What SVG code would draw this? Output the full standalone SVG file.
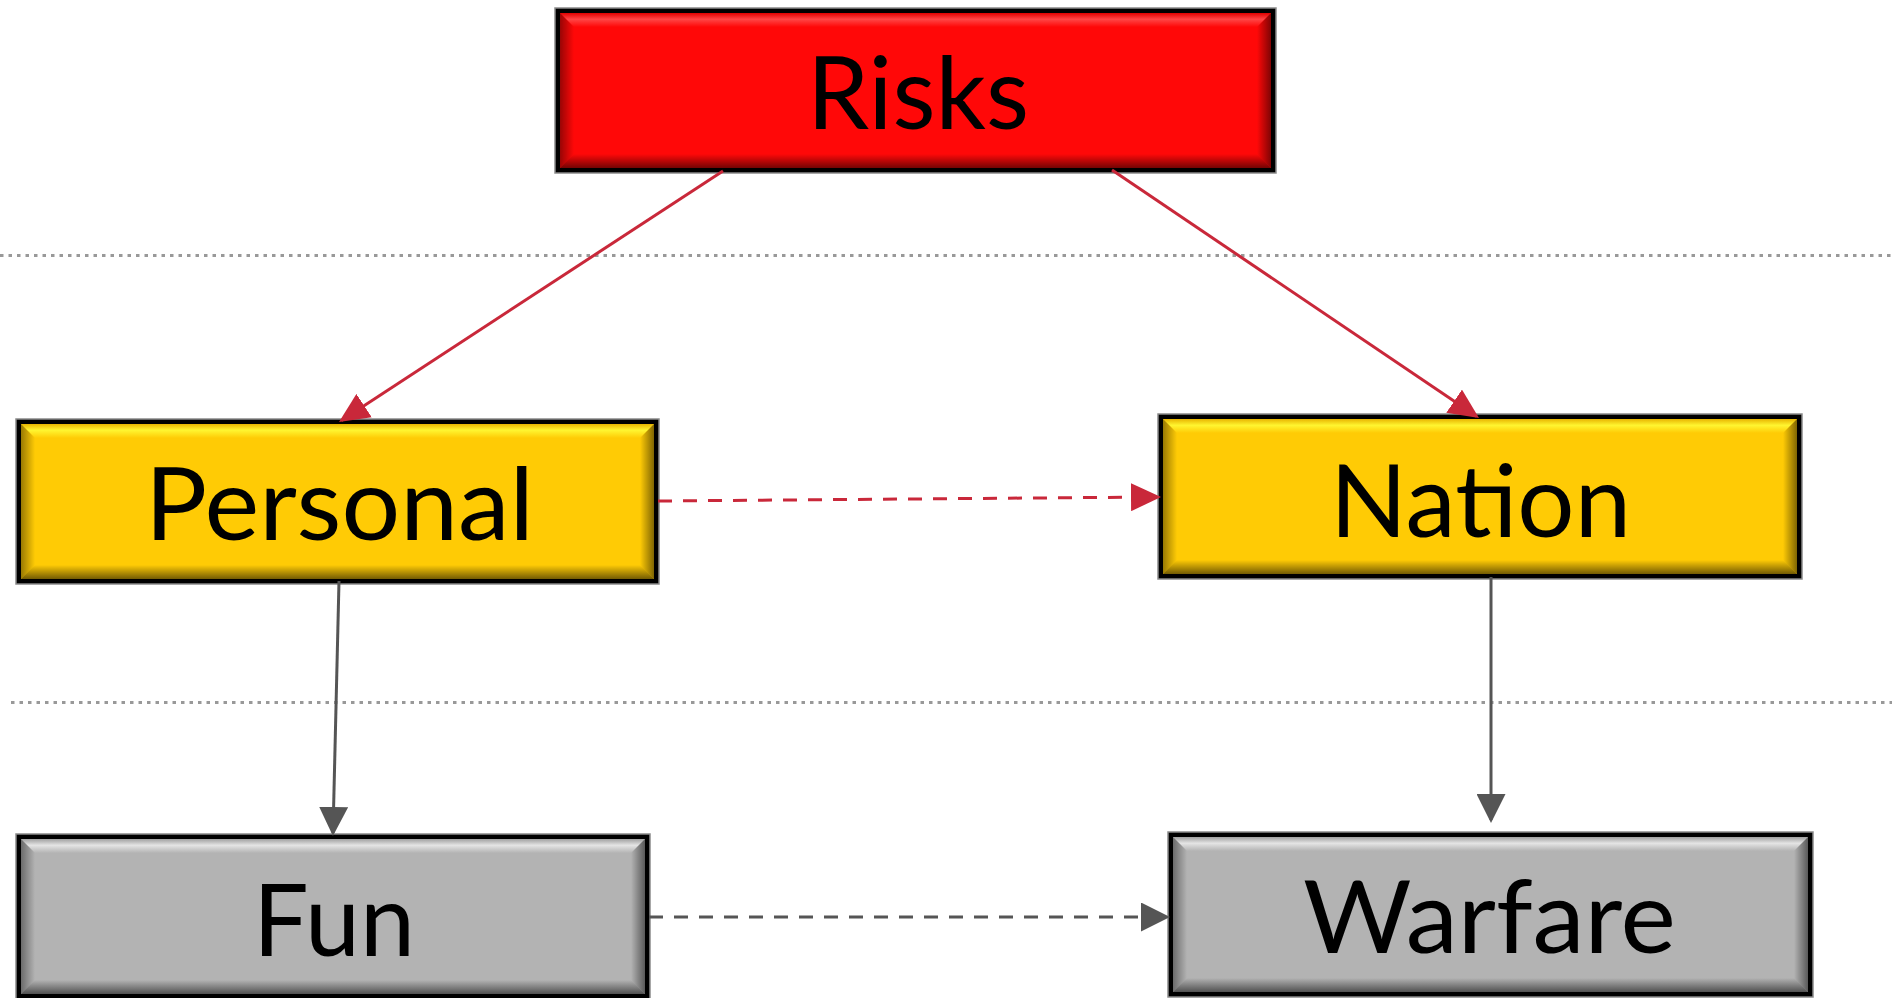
<svg xmlns="http://www.w3.org/2000/svg" width="1899" height="998" viewBox="0 0 1899 998">
  <style>
    .frame { fill: #000; stroke: #8a8a8a; stroke-width: 1.5; }
    .red { fill: #FF0808; }
    .yellow { fill: #FFCB05; }
    .gray { fill: #B3B3B3; }
    .bt { fill: url(#shadeBottom); }
    .bl { fill: url(#shadeLeft); }
    .br { fill: url(#shadeRight); }
    .label { font-family: Lato, "Liberation Sans", sans-serif; font-size: 100px; fill: #000; text-anchor: middle; }
    .guide { stroke: #999; stroke-width: 3; stroke-dasharray: 3.5 5; fill: none; }
    .link-red { stroke: #C9283A; stroke-width: 3; fill: none; }
    .link-gray { stroke: #555; stroke-width: 3; fill: none; }
    .dashed { stroke-dasharray: 14 11; }
  </style>
  <defs>
    <linearGradient id="hiRed" x1="0" y1="0" x2="0" y2="1">
      <stop offset="0" stop-color="#E00000"/>
      <stop offset="0.45" stop-color="#FF4545"/>
      <stop offset="1" stop-color="#FF0808"/>
    </linearGradient>
    <linearGradient id="hiYellow" x1="0" y1="0" x2="0" y2="1">
      <stop offset="0" stop-color="#E8B400"/>
      <stop offset="0.45" stop-color="#FFF530"/>
      <stop offset="1" stop-color="#FFCB05"/>
    </linearGradient>
    <linearGradient id="hiGray" x1="0" y1="0" x2="0" y2="1">
      <stop offset="0" stop-color="#A0A0A0"/>
      <stop offset="0.45" stop-color="#E4E4E4"/>
      <stop offset="1" stop-color="#B3B3B3"/>
    </linearGradient>
    <linearGradient id="shadeBottom" x1="0" y1="0" x2="0" y2="1">
      <stop offset="0" stop-color="#000" stop-opacity="0"/>
      <stop offset="1" stop-color="#000" stop-opacity="0.55"/>
    </linearGradient>
    <linearGradient id="shadeLeft" x1="0" y1="0" x2="1" y2="0">
      <stop offset="0" stop-color="#000" stop-opacity="0.4"/>
      <stop offset="1" stop-color="#000" stop-opacity="0"/>
    </linearGradient>
    <linearGradient id="shadeRight" x1="0" y1="0" x2="1" y2="0">
      <stop offset="0" stop-color="#000" stop-opacity="0"/>
      <stop offset="1" stop-color="#000" stop-opacity="0.5"/>
    </linearGradient>
    <marker id="arrowRed" markerUnits="userSpaceOnUse" markerWidth="30" markerHeight="28" refX="27" refY="14" orient="auto" viewBox="0 0 30 28">
      <path d="M0,0 L30,14 L0,28 z" fill="#C9283A"/>
    </marker>
    <marker id="arrowGray" markerUnits="userSpaceOnUse" markerWidth="29" markerHeight="29" refX="26" refY="14.5" orient="auto" viewBox="0 0 29 29">
      <path d="M0,0 L29,14.5 L0,29 z" fill="#555"/>
    </marker>
  </defs>

  <!-- horizontal level guides -->
  <g id="guides">
    <line class="guide" x1="0" y1="255.5" x2="1892" y2="255.5"/>
    <line class="guide" x1="11" y1="702.5" x2="1892" y2="702.5"/>
  </g>

  <!-- Risks -->
  <g id="node-risks">
    <rect class="frame" x="555" y="8" width="721" height="165"/>
    <rect class="red" x="560" y="13" width="711" height="155"/>
    <polygon fill="url(#hiRed)" points="560,13 1271,13 1257,27 574,27"/>
    <polygon class="bt" points="560,168 1271,168 1257,154 574,154"/>
    <polygon class="bl" points="560,13 574,27 574,154 560,168"/>
    <polygon class="br" points="1271,13 1257,27 1257,154 1271,168"/>
    <text class="label" x="918" y="129" textLength="222" lengthAdjust="spacingAndGlyphs">Risks</text>
  </g>

  <!-- Personal -->
  <g id="node-personal">
    <rect class="frame" x="16" y="419" width="643" height="165"/>
    <rect class="yellow" x="21" y="424" width="633" height="155"/>
    <polygon fill="url(#hiYellow)" points="21,424 654,424 640,438 35,438"/>
    <polygon class="bt" points="21,579 654,579 640,565 35,565"/>
    <polygon class="bl" points="21,424 35,438 35,565 21,579"/>
    <polygon class="br" points="654,424 640,438 640,565 654,579"/>
    <text class="label" x="339.5" y="540" textLength="389" lengthAdjust="spacingAndGlyphs">Personal</text>
  </g>

  <!-- Nation -->
  <g id="node-nation">
    <rect class="frame" x="1158" y="414" width="644" height="165"/>
    <rect class="yellow" x="1163" y="419" width="634" height="155"/>
    <polygon fill="url(#hiYellow)" points="1163,419 1797,419 1783,433 1177,433"/>
    <polygon class="bt" points="1163,574 1797,574 1783,560 1177,560"/>
    <polygon class="bl" points="1163,419 1177,433 1177,560 1163,574"/>
    <polygon class="br" points="1797,419 1783,433 1783,560 1797,574"/>
    <text class="label" x="1480.5" y="537" textLength="301" lengthAdjust="spacingAndGlyphs">Nation</text>
  </g>

  <!-- Fun -->
  <g id="node-fun">
    <rect class="frame" x="16" y="834" width="634" height="165"/>
    <rect class="gray" x="21" y="839" width="624" height="155"/>
    <polygon fill="url(#hiGray)" points="21,839 645,839 631,853 35,853"/>
    <polygon class="bt" points="21,994 645,994 631,980 35,980"/>
    <polygon class="bl" points="21,839 35,853 35,980 21,994"/>
    <polygon class="br" points="645,839 631,853 631,980 645,994"/>
    <text class="label" x="334" y="956" textLength="162" lengthAdjust="spacingAndGlyphs">Fun</text>
  </g>

  <!-- Warfare -->
  <g id="node-warfare">
    <rect class="frame" x="1168" y="832" width="645" height="165"/>
    <rect class="gray" x="1173" y="837" width="635" height="155"/>
    <polygon fill="url(#hiGray)" points="1173,837 1808,837 1794,851 1187,851"/>
    <polygon class="bt" points="1173,992 1808,992 1794,978 1187,978"/>
    <polygon class="bl" points="1173,837 1187,851 1187,978 1173,992"/>
    <polygon class="br" points="1808,837 1794,851 1794,978 1808,992"/>
    <text class="label" x="1489.5" y="953" textLength="373" lengthAdjust="spacingAndGlyphs">Warfare</text>
  </g>

  <!-- connectors -->
  <g id="connectors">
    <path class="link-red" d="M723,171 L341.5,420.4" marker-end="url(#arrowRed)"/>
    <path class="link-red" d="M1112,170 L1476.5,416.3" marker-end="url(#arrowRed)"/>
    <path class="link-red dashed" d="M658,501 L1158,497" marker-end="url(#arrowRed)"/>
    <path class="link-gray" d="M339,581 L333,833" marker-end="url(#arrowGray)"/>
    <path class="link-gray" d="M1491,577 L1491,820" marker-end="url(#arrowGray)"/>
    <path class="link-gray dashed" d="M649,917 L1167,917" marker-end="url(#arrowGray)"/>
  </g>
</svg>
